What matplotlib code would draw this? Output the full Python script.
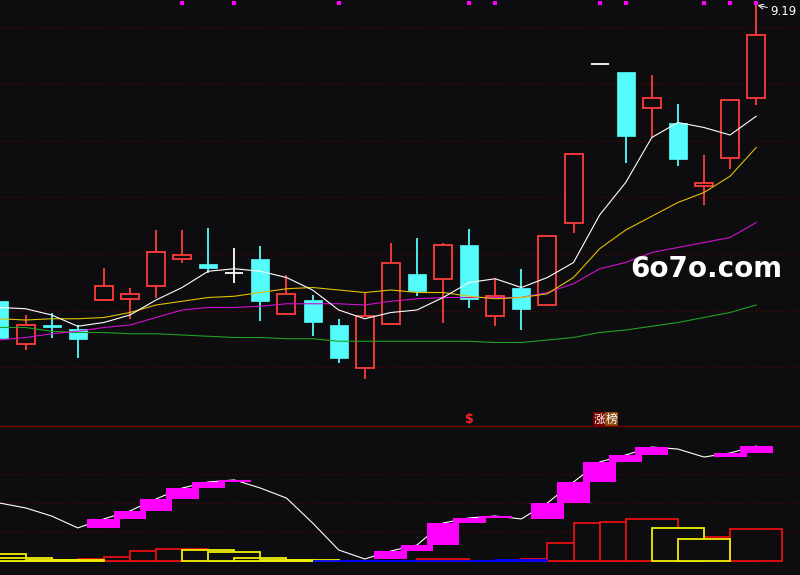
import matplotlib.pyplot as plt
from matplotlib.patches import Rectangle
import matplotlib.transforms as mtransforms

BG = '#0d0d10'
RED = '#ff3c3c'
CYAN = '#54fcfc'
GRID = '#760000'

# daily candles (price)
opens = [6.82, 6.48, 6.63, 6.60, 6.83, 6.84, 6.94, 7.16, 7.12, 7.05,
         7.16, 6.72, 6.83, 6.63, 6.29, 6.64, 7.04, 7.00, 7.27, 6.70,
         6.93, 6.79, 7.45, 8.72, 8.65, 8.37, 8.25, 7.74, 7.97, 8.45]
highs = [6.85, 6.71, 6.73, 6.63, 7.09, 6.93, 7.39, 7.39, 7.41, 7.25,
         7.26, 7.03, 6.87, 6.68, 6.89, 7.29, 7.33, 7.29, 7.40, 7.01,
         7.08, 7.34, 8.00, 8.72, 8.65, 8.63, 8.40, 7.99, 8.43, 9.19]
lows = [6.51, 6.43, 6.53, 6.37, 6.83, 6.68, 6.85, 7.13, 7.05, 6.97,
        6.66, 6.72, 6.54, 6.33, 6.20, 6.64, 6.86, 6.65, 6.77, 6.62,
        6.59, 6.79, 7.37, 8.72, 7.93, 8.13, 7.90, 7.59, 7.88, 8.39]
closes = [6.53, 6.63, 6.61, 6.52, 6.94, 6.88, 7.21, 7.19, 7.09, 7.05,
          6.82, 6.88, 6.65, 6.37, 6.70, 7.13, 6.90, 7.27, 6.84, 6.86,
          6.76, 7.34, 8.00, 8.72, 8.14, 8.45, 7.96, 7.77, 8.43, 8.95]

# moving averages
ma5 = [6.77, 6.76, 6.71, 6.62, 6.65, 6.71, 6.83, 6.93, 7.06, 7.08,
       7.06, 7.01, 6.91, 6.75, 6.68, 6.73, 6.75, 6.85, 6.97, 7.00,
       6.93, 7.01, 7.13, 7.51, 7.77, 8.13, 8.25, 8.21, 8.15, 8.30]
ma10 = [6.68, 6.67, 6.68, 6.68, 6.69, 6.73, 6.79, 6.82, 6.85, 6.86,
        6.89, 6.92, 6.93, 6.91, 6.89, 6.91, 6.89, 6.89, 6.86, 6.84,
        6.85, 6.88, 7.01, 7.24, 7.39, 7.50, 7.61, 7.69, 7.82, 8.05]
ma20 = [6.51, 6.53, 6.56, 6.58, 6.61, 6.63, 6.69, 6.75, 6.77, 6.77,
        6.78, 6.80, 6.80, 6.80, 6.79, 6.82, 6.84, 6.85, 6.85, 6.85,
        6.85, 6.89, 6.96, 7.08, 7.13, 7.21, 7.25, 7.29, 7.33, 7.45]
ma60 = [6.61, 6.61, 6.58, 6.57, 6.57, 6.56, 6.56, 6.55, 6.54, 6.53,
        6.53, 6.52, 6.52, 6.50, 6.50, 6.50, 6.50, 6.50, 6.50, 6.49,
        6.49, 6.51, 6.53, 6.57, 6.59, 6.62, 6.65, 6.69, 6.73, 6.79]

signal_days = [7, 9, 13, 18, 19, 23, 24, 27, 28, 29]

# lower indicator
osc = [40.0, 36.6, 31.0, 22.8, 29.0, 34.5, 42.8, 50.3, 54.5, 55.9,
       50.3, 43.4, 26.2, 7.6, 1.4, 6.9, 11.0, 26.2, 29.7, 31.0,
       29.0, 40.0, 54.5, 68.3, 73.1, 78.6, 77.2, 71.7, 74.5, 79.3]
bar_start = list(range(-1, 29))
bar_vals = [4.8, 2.1, 0.5, 0.5, 1.4, 2.8, 6.9, 8.3, 7.6, 6.2,
            2.1, 0.5, 0.5, 0.3, 0.3, 0.3, 0.3, 1.4, 0.3, 0.3,
            0.6, 1.4, 12.4, 26.2, 26.9, 29.0, 22.8, 15.2, 16.6, 22.1]
bar_cols = ['y', 'y', 'y', 'y', 'r', 'r', 'r', 'r', 'y', 'y',
            'y', 'y', 'y', 'b', 'b', 'b', 'b', 'r', 'b', 'b',
            'b', 'r', 'r', 'r', 'r', 'r', 'y', 'y', 'r', 'r']
col_map = {'r': '#e81010', 'y': '#f0f000', 'b': '#0000ff'}

fig = plt.figure(figsize=(8, 5.75), dpi=100, facecolor=BG)
ax1 = fig.add_axes([0, 149 / 575, 1, 426 / 575])
ax2 = fig.add_axes([0, 0, 1, 149 / 575])
for ax in (ax1, ax2):
    ax.set_facecolor(BG)
    ax.set_xticks([])
    ax.set_yticks([])
    for sp in ax.spines.values():
        sp.set_visible(False)
    ax.set_xlim(0.02, 30.68)
ax2.spines['top'].set_visible(True)
ax2.spines['top'].set_color('#780000')
ax2.spines['top'].set_linewidth(1.0)

ax1.set_ylim(5.822, 9.23)
ax2.set_ylim(-9.66, 93.1)

# dotted grid
for i in range(7):
    yf = 1 - (27.3 + 56.67 * i) / 426
    ax1.plot([0, 1], [yf, yf], color=GRID, lw=0.8, ls=(0, (1, 3)),
             transform=ax1.transAxes, zorder=0)
for g in (20, 40, 60):
    ax2.axhline(g, color=GRID, lw=0.8, ls=(0, (1, 3)), zorder=0)

# candles
w = 0.69
for i, (o, h, l, c) in enumerate(zip(opens, highs, lows, closes)):
    if c > o:
        ax1.add_patch(Rectangle((i - w / 2, o), w, c - o, facecolor=BG,
                                edgecolor=RED, lw=1.3, zorder=2))
        ax1.vlines(i, c, h, color=RED, lw=1.3, zorder=2)
        ax1.vlines(i, l, o, color=RED, lw=1.3, zorder=2)
    elif c < o:
        ax1.vlines(i, l, h, color=CYAN, lw=1.3, zorder=2)
        ax1.add_patch(Rectangle((i - w / 2, c), w, o - c, facecolor=CYAN,
                                edgecolor=CYAN, lw=0.5, zorder=2))
    else:
        ax1.vlines(i, l, h, color='white', lw=1.3, zorder=2)
        ax1.hlines(o, i - w / 2, i + w / 2, color='white', lw=1.3, zorder=2)

x = list(range(len(closes)))
ax1.plot(x, ma60, color='#20a020', lw=0.8, zorder=3)
ax1.plot(x, ma20, color='#d010d0', lw=0.8, zorder=3)
ax1.plot(x, ma10, color='#e0c000', lw=0.8, zorder=3)
ax1.plot(x, ma5, color='white', lw=0.8, zorder=3)

# signal markers on top
trans_top = mtransforms.blended_transform_factory(ax1.transData, ax1.transAxes)
ax1.plot(signal_days, [1 - 3 / 426] * len(signal_days), 's', color='#ff00ff',
         ms=2.4, mew=0, transform=trans_top, zorder=4)

# high label
last = len(closes) - 1
ax1.annotate(f'{highs[last]:.2f}', xy=(last, highs[last]), xytext=(14, -6),
             textcoords='offset pixels', color='white', fontsize=8.5,
             ha='left', va='center',
             arrowprops=dict(arrowstyle='->', color='white', lw=0.7,
                             shrinkA=0, shrinkB=1))

# bottom-of-panel tags
ax1.text(18, 0.016, '$', color='#ff2020', fontsize=9, fontweight='bold',
         ha='center', va='center', transform=trans_top)
ax1.text(23.0, 0.016, '涨', color='white', fontsize=8.5,
         family=['Noto Sans CJK SC', 'DejaVu Sans'], ha='center', va='center',
         transform=trans_top,
         bbox=dict(boxstyle='square,pad=0.08', fc='#7a0000', ec='none'))
ax1.text(23.46, 0.016, '榜', color='white', fontsize=8.5,
         family=['Noto Sans CJK SC', 'DejaVu Sans'], ha='center', va='center',
         transform=trans_top,
         bbox=dict(boxstyle='square,pad=0.08', fc='#8a4a10', ec='none'))

# watermark
fig.text(630 / 800, 1 - 277 / 575, '6o7o.com', color='white', fontsize=20,
         fontweight='bold', va='baseline', ha='left')

# lower panel: boxes
for code, zo in (('r', 2), ('y', 3), ('b', 4)):
    for s, v, cc in zip(bar_start, bar_vals, bar_cols):
        if cc == code:
            ax2.bar(s, v, width=2, align='edge', facecolor=BG,
                    edgecolor=col_map[cc], lw=1.3, zorder=zo)

ax2.plot(x, osc, color='white', lw=0.8, zorder=5)
for i in range(1, len(osc)):
    if osc[i] > osc[i - 1]:
        ax2.bar(i, osc[i] - osc[i - 1], bottom=osc[i - 1], width=1.26,
                color='#ff00ff', lw=0, zorder=6)

fig.savefig('out.png', dpi=100, facecolor=BG)
